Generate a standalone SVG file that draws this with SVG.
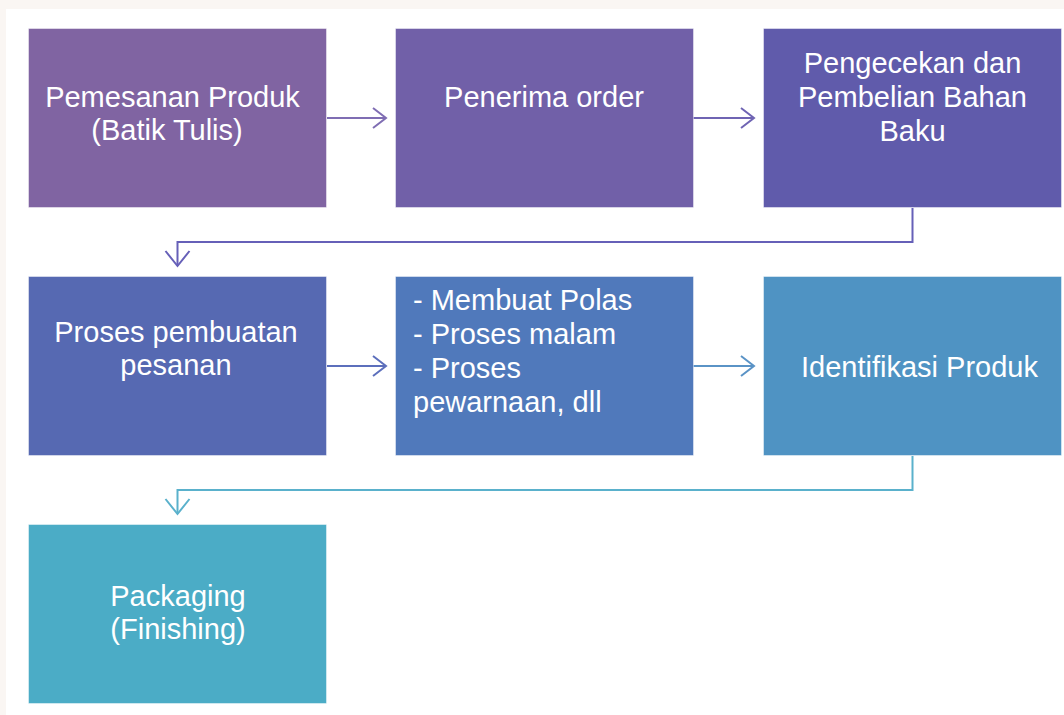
<svg xmlns="http://www.w3.org/2000/svg" width="1064" height="715" viewBox="0 0 1064 715">
<style>
.box{stroke:#ffffff;stroke-opacity:0.45;stroke-width:1}
.t{font-family:"Liberation Sans",Arial,sans-serif;font-size:29px;fill:#ffffff;text-anchor:middle}
.tl{font-family:"Liberation Sans",Arial,sans-serif;font-size:29px;fill:#ffffff;text-anchor:start}
.c{fill:none;stroke-width:2;stroke-linejoin:miter}
</style>
<rect x="0" y="0" width="1064" height="715" fill="#faf6f3"/>
<rect x="6" y="9" width="1058" height="706" fill="#ffffff"/>
<g id="connectors">
  <g stroke="#7f6db3" class="c"><path d="M327 118 H386"/><path d="M373 108 L386 118 L373 128"/></g>
  <g stroke="#6f64b3" class="c"><path d="M693 118 H754"/><path d="M741 108 L754 118 L741 128"/></g>
  <g stroke="#6660b8" class="c"><path d="M912.5 208 V242 H177.5 V266"/><path d="M165.5 251 L177.5 266 L189.5 251"/></g>
  <g stroke="#5c6fbc" class="c"><path d="M327 366 H386"/><path d="M373 356 L386 366 L373 376"/></g>
  <g stroke="#5a93c6" class="c"><path d="M693 366 H754"/><path d="M741 356 L754 366 L741 376"/></g>
  <g stroke="#5ab1cc" class="c"><path d="M912.5 456 V490 H177.5 V514"/><path d="M165.5 499 L177.5 514 L189.5 499"/></g>
</g>
<g id="n1"><rect class="box" x="28.5" y="28.5" width="298" height="179" fill="#8064a2"/>
<text class="t" x="172.5" y="107">Pemesanan Produk</text><text class="t" x="167" y="140">(Batik Tulis)</text></g>
<g id="n2"><rect class="box" x="395.5" y="28.5" width="298" height="179" fill="#7160a8"/>
<text class="t" x="544" y="107">Penerima order</text></g>
<g id="n3"><rect class="box" x="763.5" y="28.5" width="298" height="179" fill="#605bab"/>
<text class="t" x="912.5" y="73">Pengecekan dan</text><text class="t" x="912.5" y="107">Pembelian Bahan</text><text class="t" x="912.5" y="141">Baku</text></g>
<g id="n4"><rect class="box" x="28.5" y="276.5" width="298" height="179" fill="#5669b2"/>
<text class="t" x="176" y="342">Proses pembuatan</text><text class="t" x="176" y="375">pesanan</text></g>
<g id="n5"><rect class="box" x="395.5" y="276.5" width="298" height="179" fill="#5079bb"/>
<text class="tl" x="413" y="310">- Membuat Polas</text><text class="tl" x="413" y="344">- Proses malam</text><text class="tl" x="413" y="378">- Proses</text><text class="tl" x="413" y="412">pewarnaan, dll</text></g>
<g id="n6"><rect class="box" x="763.5" y="276.5" width="298" height="179" fill="#4f93c3"/>
<text class="t" x="919.5" y="377">Identifikasi Produk</text></g>
<g id="n7"><rect class="box" x="28.5" y="524.5" width="298" height="179" fill="#4bacc6"/>
<text class="t" x="178" y="606">Packaging</text><text class="t" x="178" y="639">(Finishing)</text></g>
</svg>
